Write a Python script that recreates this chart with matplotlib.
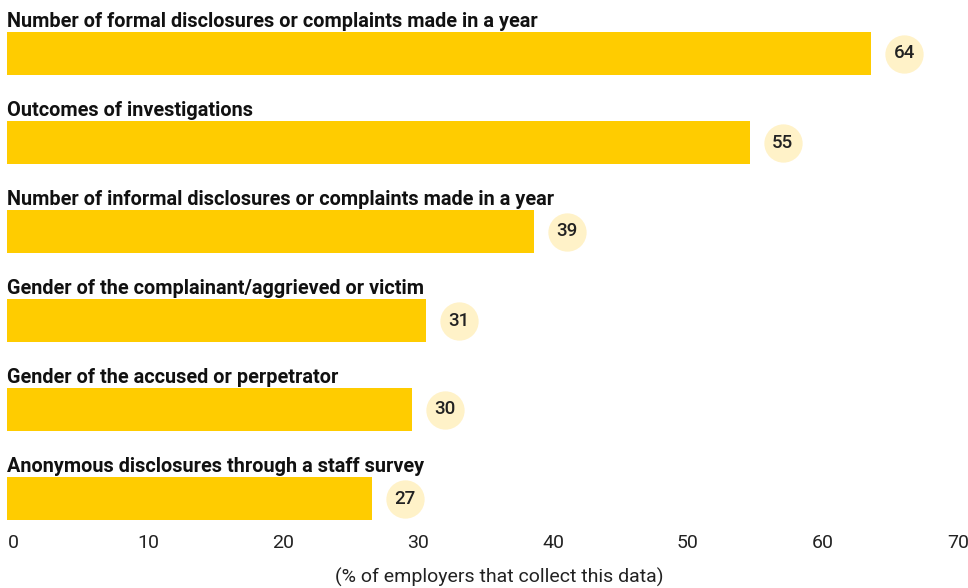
import matplotlib.pyplot as plt
from matplotlib.transforms import ScaledTranslation

plt.rcParams['font.family'] = ['Roboto', 'DejaVu Sans']

labels = [
    "Number of formal disclosures or complaints made in a year",
    "Outcomes of investigations",
    "Number of informal disclosures or complaints made in a year",
    "Gender of the complainant/aggrieved or victim",
    "Gender of the accused or perpetrator",
    "Anonymous disclosures through a staff survey",
]
values = [64, 55, 39, 31, 30, 27]
ticks = [0, 10, 20, 30, 40, 50, 60, 70]

fig = plt.figure(figsize=(9.68, 5.88), dpi=100)
# axes span: x 0..70 -> px 7..952, y bars between px 32..519
ax = fig.add_axes([7 / 968, 66 / 588, 945 / 968, 512 / 588])

pos = list(range(len(values)))
ax.barh(pos, values, height=0.483, color='#FFCC00')

for i, (lab, v) in enumerate(zip(labels, values)):
    ax.text(0, i - 0.30, lab, fontsize=14.3, fontweight='bold', color='#111111',
            ha='left', va='baseline')
    ax.scatter(v + 2.45, i, s=760, color='#FFF2C8', zorder=3, linewidths=0)
    ax.text(v + 2.45, i, str(v), fontsize=13.5, fontweight='medium',
            color='#222222', ha='center', va='center', zorder=4)

ax.set_xlim(0, 70)
ax.set_ylim((522 - 53.5) / 89, (10 - 53.5) / 89)
ax.set_xticks([])
ax.set_yticks([])
for s in ax.spines.values():
    s.set_visible(False)

# tick labels sit a few pixels right of the bar scale in the original
shift = ScaledTranslation(6 / 100, -12 / 100, fig.dpi_scale_trans)
for t in ticks:
    ax.text(t, 0, str(t), fontsize=14, color='#222222', ha='center', va='top',
            transform=ax.get_xaxis_transform() + shift, clip_on=False)

fig.text(499 / 968, 1 - 577 / 588, "(% of employers that collect this data)",
         fontsize=14, color='#222222', ha='center', va='center')

fig.savefig('out.png', dpi=100)
